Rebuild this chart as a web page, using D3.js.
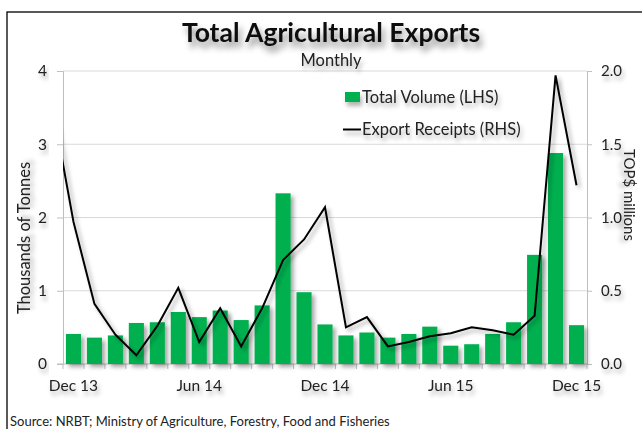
<!DOCTYPE html>
<html><head><meta charset="utf-8">
<script src="https://cdn.jsdelivr.net/npm/d3@7"></script>
<style>
html,body{margin:0;padding:0;background:#fff;}
svg{display:block;font-family:Lato,"Open Sans",sans-serif;}
</style></head>
<body>
<svg id="c" width="642" height="429"></svg>
<script>
// ---- data ----
const months = ["Dec 13","Jan 14","Feb 14","Mar 14","Apr 14","May 14","Jun 14","Jul 14","Aug 14","Sep 14","Oct 14","Nov 14","Dec 14",
  "Jan 15","Feb 15","Mar 15","Apr 15","May 15","Jun 15","Jul 15","Aug 15","Sep 15","Oct 15","Nov 15","Dec 15"];
const volume = [0.41,0.36,0.39,0.56,0.57,0.71,0.64,0.73,0.60,0.80,2.33,0.98,0.54,0.39,0.43,0.36,0.41,0.51,0.25,0.27,0.41,0.57,1.49,2.88,0.53];
const priorMonth = "Nov 13";
const priorReceipt = 1.76; // previous month, only partly visible at the left edge
const receipts = [0.97,0.41,0.20,0.06,0.26,0.52,0.15,0.38,0.12,0.38,0.71,0.85,1.07,0.25,0.32,0.12,0.15,0.19,0.21,0.25,0.23,0.20,0.33,1.97,1.22];
const xTickLabels = ["Dec 13","Jun 14","Dec 14","Jun 15","Dec 15"];
const leftTicks = [0,1,2,3,4];
const rightTicks = [0,0.5,1,1.5,2];

const svg = d3.select("#c");
const defs = svg.append("defs");
const f = defs.append("filter").attr("id","sh").attr("x","-20%").attr("y","-20%").attr("width","150%").attr("height","160%");
f.append("feDropShadow").attr("dx",3).attr("dy",3).attr("stdDeviation",2).attr("flood-color","#000").attr("flood-opacity",0.35);
const ft = defs.append("filter").attr("id","tsh").attr("x","-10%").attr("y","-30%").attr("width","130%").attr("height","190%");
ft.append("feDropShadow").attr("dx",2).attr("dy",4).attr("stdDeviation",2.2).attr("flood-color","#000").attr("flood-opacity",0.3);
const ft2 = defs.append("filter").attr("id","tsh2").attr("x","-10%").attr("y","-30%").attr("width","130%").attr("height","200%");
ft2.append("feDropShadow").attr("dx",3).attr("dy",6).attr("stdDeviation",3).attr("flood-color","#000").attr("flood-opacity",0.45);
defs.append("clipPath").attr("id","clip").append("rect").attr("x",63).attr("y",60).attr("width",524).attr("height",320);

// frame
svg.append("rect").attr("x",7).attr("y",12).attr("width",660).attr("height",440)
  .attr("fill","none").attr("stroke","#000").attr("stroke-width",1.3);

const L = 63, R = 587, T = 71, B = 364;
const x = d3.scaleBand().domain(months).range([L,R]).paddingInner(0.28).paddingOuter(0.14);
const yL = d3.scaleLinear().domain([0,4]).range([B,T]);
const yR = d3.scaleLinear().domain([0,2]).range([B,T]);
const cx = m => x(m) + x.bandwidth()/2;
const step = x.step();

// gridlines
svg.append("g").selectAll("line").data(leftTicks.filter(d=>d>0)).join("line")
  .attr("x1",L).attr("x2",R).attr("y1",d=>yL(d)).attr("y2",d=>yL(d))
  .attr("stroke","#d9d9d9").attr("stroke-width",1);

// left axis
const gl = svg.append("g").attr("transform",`translate(${L},0)`)
  .call(d3.axisLeft(yL).tickValues(leftTicks).tickFormat(d3.format("d")).tickSize(6).tickPadding(10));
gl.select(".domain").attr("stroke","#bfbfbf");
gl.selectAll(".tick line").attr("stroke","#bfbfbf");
gl.selectAll("text").attr("font-size",15.5).attr("fill","#222").attr("font-family","Lato").attr("filter","url(#tsh)");

// right axis
const gr = svg.append("g").attr("transform",`translate(${R},0)`)
  .call(d3.axisRight(yR).tickValues(rightTicks).tickFormat(d3.format(".1f")).tickSize(5).tickPadding(9));
gr.select(".domain").attr("stroke","#bfbfbf");
gr.selectAll(".tick line").attr("stroke","#bfbfbf");
gr.selectAll("text").attr("font-size",15).attr("fill","#222").attr("font-family","Lato").attr("filter","url(#tsh)");

// bottom axis line and ticks between categories
svg.append("line").attr("x1",L-6).attr("x2",R).attr("y1",B).attr("y2",B).attr("stroke","#bfbfbf");
svg.append("g").selectAll("line").data(months).join("line")
  .attr("x1",d=>x(d)-step*0.14).attr("x2",d=>x(d)-step*0.14).attr("y1",B).attr("y2",B+5)
  .attr("stroke","#bfbfbf");
svg.append("line").attr("x1",R).attr("x2",R).attr("y1",B).attr("y2",B+5).attr("stroke","#bfbfbf");

// bars
svg.append("g").attr("filter","url(#sh)").selectAll("rect").data(months).join("rect")
  .attr("x",d=>x(d)).attr("width",x.bandwidth())
  .attr("y",(d,i)=>yL(volume[i])).attr("height",(d,i)=>B-yL(volume[i]))
  .attr("fill","#00b050");

// line
const pts = [[cx(months[0]) - step, priorReceipt]].concat(months.map((m,i)=>[cx(m),receipts[i]]));
svg.append("path").attr("clip-path","url(#clip)").attr("filter","url(#sh)")
  .attr("d", d3.line().x(d=>d[0]).y(d=>yR(d[1]))(pts))
  .attr("fill","none").attr("stroke","#000").attr("stroke-width",2).attr("stroke-linejoin","miter");

// x labels
svg.append("g").selectAll("text").data(xTickLabels).join("text")
  .attr("x",d=>cx(d)).attr("y",391).attr("text-anchor","middle")
  .attr("font-size",15.5).attr("fill","#222").attr("filter","url(#tsh)").text(d=>d);

// title
svg.append("text").attr("x",331).attr("y",42).attr("text-anchor","middle")
  .attr("font-size",26.5).attr("font-weight","bold").attr("fill","#111").attr("filter","url(#tsh2)")
  .text("Total Agricultural Exports");
svg.append("text").attr("x",331).attr("y",66).attr("text-anchor","middle")
  .attr("font-size",16.5).attr("fill","#222").attr("filter","url(#tsh)").text("Monthly");

// axis titles
svg.append("text").attr("transform",`translate(30,238) rotate(-90)`).attr("text-anchor","middle")
  .attr("font-size",16.5).attr("fill","#222").attr("filter","url(#tsh)").text("Thousands of Tonnes");
svg.append("text").attr("transform",`translate(624,195) rotate(90)`).attr("text-anchor","middle")
  .attr("font-size",15).attr("fill","#222").attr("filter","url(#tsh)").text("TOP$ millions");

// legend
const lg = svg.append("g").attr("filter","url(#tsh)");
lg.append("rect").attr("x",345).attr("y",92).attr("width",15).attr("height",10).attr("fill","#00b050");
lg.append("text").attr("x",362).attr("y",103).attr("font-size",16.5).attr("fill","#222").text("Total Volume (LHS)");
lg.append("line").attr("x1",343).attr("x2",361).attr("y1",129.5).attr("y2",129.5).attr("stroke","#000").attr("stroke-width",2);
lg.append("text").attr("x",362).attr("y",135).attr("font-size",16.5).attr("fill","#222").text("Export Receipts (RHS)");

// source
svg.append("text").attr("x",10).attr("y",426).attr("font-size",13).attr("fill","#222")
  .text("Source: NRBT; Ministry of Agriculture, Forestry, Food and Fisheries");
</script>
</body></html>
